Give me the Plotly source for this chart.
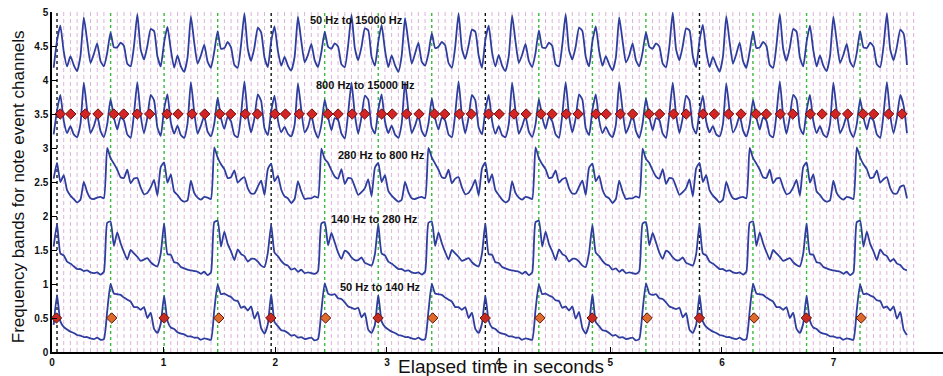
import plotly.graph_objects as go

# ---------------- data ----------------
SAMPLE_START = 0.015      # s, time of first sample
SAMPLE_STEP = 0.02997     # s between samples

BAND_50_15000 = [
    4.18,4.58,4.80,4.42,4.20,4.35,4.22,4.13,4.35,4.92,4.58,4.25,4.38,4.54,4.28,4.20,4.40,4.70,4.48,4.48,4.55,4.50,4.24,4.20,4.50,4.97,4.45,4.30,4.50,4.75,4.72,4.35,
    4.20,4.55,4.78,4.45,4.18,4.36,4.20,4.12,4.33,4.94,4.55,4.24,4.36,4.52,4.27,4.18,4.42,4.72,4.46,4.47,4.56,4.48,4.22,4.18,4.52,4.98,4.46,4.28,4.48,4.77,4.70,4.33,
    4.19,4.57,4.79,4.43,4.21,4.34,4.21,4.14,4.34,4.93,4.57,4.26,4.37,4.53,4.29,4.19,4.41,4.71,4.49,4.46,4.54,4.49,4.23,4.19,4.51,4.96,4.47,4.29,4.49,4.76,4.73,4.34,
    4.21,4.56,4.81,4.44,4.19,4.36,4.22,4.12,4.36,4.91,4.56,4.24,4.39,4.55,4.27,4.21,4.39,4.69,4.47,4.49,4.56,4.51,4.25,4.18,4.49,4.98,4.46,4.31,4.51,4.74,4.71,4.36,
    4.18,4.59,4.80,4.41,4.20,4.37,4.21,4.13,4.35,4.95,4.57,4.25,4.37,4.53,4.28,4.19,4.40,4.73,4.48,4.47,4.55,4.50,4.23,4.20,4.52,4.97,4.44,4.30,4.49,4.77,4.72,4.34,
    4.20,4.57,4.79,4.43,4.21,4.35,4.23,4.14,4.33,4.92,4.58,4.26,4.36,4.54,4.29,4.20,4.41,4.70,4.49,4.46,4.54,4.49,4.24,4.19,4.50,4.99,4.45,4.29,4.50,4.76,4.73,4.35,
    4.19,4.58,4.81,4.42,4.19,4.34,4.22,4.12,4.34,4.94,4.56,4.24,4.38,4.55,4.28,4.18,4.42,4.71,4.47,4.48,4.56,4.50,4.22,4.18,4.51,4.97,4.46,4.28,4.48,4.75,4.71,4.33,
    4.20,4.56,4.80,4.44,4.20,4.36,4.21,4.13,4.35,4.93,4.57,4.25,4.37,4.53,4.27,4.19,4.40,4.72,4.48,4.47,4.55,4.49,4.23,4.19,4.50,4.98,4.45,4.29,4.49,4.74,4.68,4.22,
]

BAND_800_15000 = [
    3.20,3.55,3.78,3.40,3.22,3.32,3.20,3.16,3.35,3.96,3.55,3.22,3.32,3.48,3.25,3.16,3.35,3.72,3.45,3.27,3.45,3.40,3.20,3.15,3.50,3.97,3.48,3.22,3.45,3.78,3.70,3.30,
    3.18,3.57,3.79,3.38,3.21,3.33,3.19,3.15,3.36,3.97,3.53,3.21,3.33,3.47,3.24,3.17,3.36,3.74,3.44,3.28,3.46,3.39,3.19,3.16,3.49,3.98,3.47,3.23,3.44,3.79,3.69,3.29,
    3.19,3.54,3.77,3.41,3.23,3.31,3.21,3.17,3.34,3.95,3.56,3.23,3.31,3.49,3.26,3.15,3.34,3.71,3.46,3.26,3.44,3.41,3.21,3.14,3.51,3.96,3.49,3.21,3.46,3.77,3.71,3.31,
    3.21,3.56,3.79,3.39,3.22,3.33,3.20,3.15,3.36,3.97,3.54,3.22,3.33,3.48,3.25,3.17,3.36,3.73,3.44,3.27,3.45,3.40,3.20,3.16,3.50,3.98,3.47,3.22,3.45,3.78,3.70,3.30,
    3.20,3.55,3.78,3.40,3.21,3.32,3.19,3.16,3.35,3.96,3.55,3.21,3.32,3.47,3.24,3.16,3.35,3.72,3.45,3.28,3.46,3.39,3.20,3.15,3.49,3.97,3.48,3.23,3.44,3.79,3.71,3.29,
    3.19,3.56,3.79,3.41,3.22,3.31,3.21,3.16,3.34,3.97,3.56,3.22,3.33,3.49,3.25,3.15,3.36,3.73,3.46,3.26,3.44,3.41,3.21,3.15,3.51,3.96,3.49,3.22,3.45,3.77,3.70,3.31,
    3.21,3.54,3.77,3.39,3.23,3.32,3.20,3.17,3.35,3.95,3.54,3.23,3.32,3.48,3.26,3.17,3.35,3.71,3.45,3.27,3.45,3.40,3.19,3.16,3.50,3.98,3.47,3.21,3.46,3.78,3.71,3.30,
    3.20,3.55,3.78,3.40,3.22,3.32,3.20,3.16,3.35,3.96,3.55,3.22,3.32,3.48,3.25,3.16,3.35,3.72,3.45,3.27,3.45,3.40,3.20,3.15,3.50,3.97,3.48,3.22,3.45,3.78,3.62,3.22,
]

BAND_280_800 = [
    2.55,2.78,2.50,2.60,2.38,2.30,2.25,2.20,2.24,2.50,2.35,2.26,2.25,2.27,2.28,2.26,3.00,2.85,2.77,2.68,2.57,2.56,2.68,2.48,2.55,2.56,2.42,2.32,2.34,2.42,2.53,2.30,
    2.72,2.79,2.49,2.61,2.36,2.31,2.24,2.21,2.23,2.52,2.34,2.27,2.24,2.28,2.27,2.25,3.01,2.86,2.76,2.69,2.56,2.57,2.67,2.49,2.54,2.57,2.41,2.33,2.33,2.43,2.52,2.31,
    2.69,2.77,2.51,2.59,2.39,2.29,2.26,2.19,2.25,2.51,2.36,2.25,2.26,2.26,2.29,2.27,2.99,2.84,2.78,2.67,2.58,2.55,2.69,2.47,2.56,2.55,2.43,2.31,2.35,2.41,2.54,2.29,
    2.71,2.78,2.50,2.60,2.37,2.30,2.25,2.21,2.24,2.50,2.35,2.26,2.25,2.27,2.28,2.26,3.00,2.86,2.77,2.68,2.57,2.56,2.68,2.48,2.55,2.57,2.42,2.32,2.34,2.42,2.53,2.30,
    2.70,2.79,2.49,2.61,2.38,2.31,2.24,2.20,2.23,2.51,2.34,2.27,2.24,2.28,2.27,2.25,3.01,2.85,2.76,2.69,2.56,2.57,2.67,2.49,2.54,2.56,2.41,2.33,2.33,2.43,2.52,2.31,
    2.71,2.77,2.51,2.59,2.39,2.29,2.26,2.19,2.25,2.52,2.36,2.25,2.26,2.26,2.29,2.27,2.99,2.84,2.78,2.67,2.58,2.55,2.69,2.47,2.56,2.55,2.43,2.31,2.35,2.41,2.54,2.29,
    2.70,2.78,2.50,2.60,2.38,2.30,2.25,2.20,2.24,2.50,2.35,2.26,2.25,2.27,2.28,2.26,3.00,2.85,2.77,2.68,2.57,2.56,2.68,2.48,2.55,2.56,2.42,2.32,2.34,2.42,2.53,2.30,
    2.72,2.79,2.49,2.61,2.36,2.31,2.24,2.21,2.23,2.52,2.34,2.27,2.24,2.28,2.27,2.25,3.01,2.86,2.76,2.69,2.56,2.57,2.67,2.49,2.54,2.57,2.41,2.33,2.33,2.43,2.45,2.26,
]

BAND_140_280 = [
    1.55,1.88,1.45,1.42,1.33,1.30,1.26,1.22,1.22,1.19,1.20,1.17,1.16,1.17,1.14,1.18,1.90,1.92,1.56,1.76,1.60,1.47,1.36,1.50,1.45,1.40,1.34,1.36,1.38,1.32,1.28,1.26,
    1.45,1.89,1.44,1.43,1.32,1.31,1.25,1.23,1.21,1.20,1.19,1.18,1.15,1.18,1.13,1.17,1.91,1.93,1.55,1.77,1.59,1.48,1.35,1.51,1.44,1.41,1.33,1.37,1.37,1.33,1.27,1.25,
    1.46,1.87,1.46,1.41,1.34,1.29,1.27,1.21,1.23,1.18,1.21,1.16,1.17,1.16,1.15,1.19,1.89,1.91,1.57,1.75,1.61,1.46,1.37,1.49,1.46,1.39,1.35,1.35,1.39,1.31,1.29,1.27,
    1.44,1.88,1.45,1.42,1.33,1.30,1.26,1.22,1.22,1.19,1.20,1.17,1.16,1.17,1.14,1.18,1.90,1.92,1.56,1.76,1.60,1.47,1.36,1.50,1.45,1.40,1.34,1.36,1.38,1.32,1.28,1.26,
    1.45,1.89,1.44,1.43,1.32,1.31,1.25,1.23,1.21,1.20,1.19,1.18,1.15,1.18,1.13,1.17,1.91,1.93,1.55,1.77,1.59,1.48,1.35,1.51,1.44,1.41,1.33,1.37,1.37,1.33,1.27,1.25,
    1.46,1.87,1.46,1.41,1.34,1.29,1.27,1.21,1.23,1.18,1.21,1.16,1.17,1.16,1.15,1.19,1.89,1.91,1.57,1.75,1.61,1.46,1.37,1.49,1.46,1.39,1.35,1.35,1.39,1.31,1.29,1.27,
    1.44,1.88,1.45,1.42,1.33,1.30,1.26,1.22,1.22,1.19,1.20,1.17,1.16,1.17,1.14,1.18,1.90,1.92,1.56,1.76,1.60,1.47,1.36,1.50,1.45,1.40,1.34,1.36,1.38,1.32,1.28,1.26,
    1.45,1.89,1.44,1.43,1.32,1.31,1.25,1.23,1.21,1.20,1.19,1.18,1.15,1.18,1.13,1.17,1.91,1.93,1.55,1.77,1.59,1.48,1.35,1.51,1.44,1.41,1.33,1.37,1.30,1.28,1.22,1.20,
]

BAND_50_140 = [
    0.40,0.84,0.45,0.37,0.33,0.30,0.28,0.25,0.24,0.22,0.22,0.20,0.19,0.21,0.18,0.19,0.60,1.00,0.86,0.85,0.84,0.80,0.77,0.74,0.66,0.66,0.62,0.66,0.50,0.58,0.34,0.28,
    0.42,0.83,0.46,0.36,0.34,0.29,0.27,0.26,0.23,0.23,0.21,0.21,0.18,0.20,0.19,0.18,0.62,0.99,0.85,0.86,0.83,0.81,0.76,0.75,0.65,0.67,0.61,0.67,0.49,0.59,0.35,0.27,
    0.41,0.85,0.44,0.38,0.32,0.31,0.28,0.24,0.25,0.21,0.22,0.19,0.20,0.21,0.17,0.19,0.61,1.01,0.86,0.84,0.85,0.79,0.78,0.73,0.67,0.65,0.63,0.65,0.51,0.57,0.33,0.28,
    0.40,0.84,0.45,0.37,0.33,0.30,0.28,0.25,0.24,0.22,0.22,0.20,0.19,0.21,0.18,0.19,0.60,1.00,0.86,0.85,0.84,0.80,0.77,0.74,0.66,0.66,0.62,0.66,0.50,0.58,0.34,0.28,
    0.42,0.83,0.46,0.36,0.34,0.29,0.27,0.26,0.23,0.23,0.21,0.21,0.18,0.20,0.19,0.18,0.62,0.99,0.85,0.86,0.83,0.81,0.76,0.75,0.65,0.67,0.61,0.67,0.49,0.59,0.35,0.27,
    0.41,0.85,0.44,0.38,0.32,0.31,0.28,0.24,0.25,0.21,0.22,0.19,0.20,0.21,0.17,0.19,0.61,1.01,0.86,0.84,0.85,0.79,0.78,0.73,0.67,0.65,0.63,0.65,0.51,0.57,0.33,0.28,
    0.40,0.84,0.45,0.37,0.33,0.30,0.28,0.25,0.24,0.22,0.22,0.20,0.19,0.21,0.18,0.19,0.60,1.00,0.86,0.85,0.84,0.80,0.77,0.74,0.66,0.66,0.62,0.66,0.50,0.58,0.34,0.28,
    0.42,0.83,0.46,0.36,0.34,0.29,0.27,0.26,0.23,0.23,0.21,0.21,0.18,0.20,0.19,0.18,0.62,0.99,0.85,0.86,0.83,0.81,0.76,0.75,0.65,0.67,0.61,0.67,0.49,0.59,0.33,0.25,
]

BEAT_TIMES = [0.045, 0.525, 1.004, 1.484, 1.963, 2.442, 2.922, 3.401,
              3.881, 4.360, 4.840, 5.319, 5.799, 6.278, 6.758, 7.237]
BEAT_END = 7.717
BEATS_PER_BAR = 4
SUBDIVISIONS = 8

HIGH_EVENT_TIMES = [
    0.074, 0.168, 0.298, 0.412, 0.553, 0.642, 0.764, 0.875,
    1.030, 1.129, 1.254, 1.368, 1.502, 1.600, 1.731, 1.840,
    1.996, 2.091, 2.215, 2.328, 2.470, 2.562, 2.688, 2.800,
    2.952, 3.047, 3.176, 3.287, 3.426, 3.517, 3.649, 3.756,
    3.910, 4.006, 4.138, 4.247, 4.380, 4.479, 4.606, 4.712,
    4.872, 4.964, 5.090, 5.200, 5.347, 5.442, 5.567, 5.680,
    5.830, 5.932, 6.060, 6.171, 6.306, 6.398, 6.523, 6.634,
    6.792, 6.897, 7.016, 7.126, 7.264, 7.359, 7.493, 7.613,
]
HIGH_EVENT_LEVEL = 3.5
LOW_EVENT_TIMES = [0.040, 0.535, 1.004, 1.494, 1.960, 2.450, 2.920, 3.410,
                   3.880, 4.370, 4.838, 5.330, 5.799, 6.288, 6.756, 7.247]
LOW_EVENT_LEVEL = 0.5

BAND_LABELS = ["50 Hz to 15000 Hz", "800 Hz to 15000 Hz", "280 Hz to 800 Hz",
               "140 Hz to 280 Hz", "50 Hz to 140 Hz"]
LABEL_X = [2.73, 2.81, 2.95, 2.89, 2.94]
LABEL_Y = [4.88, 3.93, 2.90, 1.96, 0.96]

X_TICKS = [0, 1, 2, 3, 4, 5, 6, 7]
Y_TICKS = [0, 0.5, 1, 1.5, 2, 2.5, 3, 3.5, 4, 4.5, 5]
Y_TICK_TEXT = ["0", "0.5", "1", "1.5", "2", "2.5", "3", "3.5", "4", "4.5", "5"]

# ---------------- figure ----------------
FONT = "Liberation Sans, Arial, Helvetica, sans-serif"
times = [SAMPLE_START + SAMPLE_STEP * i for i in range(len(BAND_50_15000))]

fig = go.Figure()


def vlines(xs, y0=0, y1=5):
    X, Y = [], []
    for x in xs:
        X += [x, x, None]
        Y += [y0, y1, None]
    return X, Y


# subdivision grid lines
edges = BEAT_TIMES + [BEAT_END]
subs = []
for b in range(len(BEAT_TIMES)):
    step = (edges[b + 1] - edges[b]) / SUBDIVISIONS
    for k in range(1, SUBDIVISIONS):
        subs.append(edges[b] + k * step)
subs.append(BEAT_END)
X, Y = vlines(subs)
fig.add_trace(go.Scatter(x=X, y=Y, mode="lines", hoverinfo="skip",
                         line=dict(color="#deb2da", width=1, dash="4px,3px")))

bar_beats = [t for i, t in enumerate(BEAT_TIMES) if i % BEATS_PER_BAR == 0]
other_beats = [t for i, t in enumerate(BEAT_TIMES) if i % BEATS_PER_BAR != 0]
X, Y = vlines(other_beats)
fig.add_trace(go.Scatter(x=X, y=Y, mode="lines", hoverinfo="skip",
                         line=dict(color="#3cb83c", width=1.4, dash="dot")))
X, Y = vlines(bar_beats)
fig.add_trace(go.Scatter(x=X, y=Y, mode="lines", hoverinfo="skip",
                         line=dict(color="#111111", width=1.4, dash="dot")))

for band in [BAND_50_15000, BAND_800_15000, BAND_280_800, BAND_140_280, BAND_50_140]:
    fig.add_trace(go.Scatter(x=times, y=band, mode="lines",
                             line=dict(color="#2e3d9e", width=1.8, shape="spline", smoothing=0.5)))

fig.add_trace(go.Scatter(
    x=HIGH_EVENT_TIMES, y=[HIGH_EVENT_LEVEL] * len(HIGH_EVENT_TIMES), mode="markers",
    marker=dict(symbol="diamond", size=8, color="#d42424",
                line=dict(color="#6a1010", width=1))))
low_colors = ["#c82a22" if i % 2 == 0 else "#e06a2a" for i in range(len(LOW_EVENT_TIMES))]
fig.add_trace(go.Scatter(
    x=LOW_EVENT_TIMES, y=[LOW_EVENT_LEVEL] * len(LOW_EVENT_TIMES), mode="markers",
    marker=dict(symbol="diamond", size=8, color=low_colors,
                line=dict(color="#5a1a10", width=1))))

annotations = []
for txt, x, y in zip(BAND_LABELS, LABEL_X, LABEL_Y):
    annotations.append(dict(x=x, y=y, xref="x", yref="y", text="<b>%s</b>" % txt,
                            showarrow=False, font=dict(family=FONT, size=11, color="#111")))
annotations.append(dict(x=0.504, y=-0.043, xref="paper", yref="paper",
                        text="Elapsed time in seconds", showarrow=False,
                        xanchor="center", yanchor="middle",
                        font=dict(family=FONT, size=19, color="#111")))
annotations.append(dict(x=-0.038, y=0.485, xref="paper", yref="paper",
                        text="Frequency bands for note event channels", showarrow=False,
                        textangle=-90, xanchor="center", yanchor="middle",
                        font=dict(family=FONT, size=17, color="#111")))

fig.update_layout(
    width=943, height=376,
    margin=dict(l=52, r=0, t=12, b=24, autoexpand=False),
    paper_bgcolor="white", plot_bgcolor="white",
    showlegend=False,
    annotations=annotations,
    xaxis=dict(range=[0, 7.98], showgrid=False, zeroline=False,
               showline=True, linecolor="black", linewidth=1.5,
               ticks="inside", ticklen=5, tickcolor="black",
               tickvals=X_TICKS, ticktext=[str(v) for v in X_TICKS],
               tickfont=dict(family=FONT, size=10, color="#111", weight="bold")),
    yaxis=dict(range=[0, 5], showgrid=False, zeroline=False,
               showline=True, linecolor="black", linewidth=1.5,
               ticks="inside", ticklen=5, tickcolor="black",
               tickvals=Y_TICKS, ticktext=Y_TICK_TEXT,
               tickfont=dict(family=FONT, size=10, color="#111", weight="bold")),
)

fig.write_html("out.html", config={"displayModeBar": False},
               post_script="document.body.style.margin='0';")
